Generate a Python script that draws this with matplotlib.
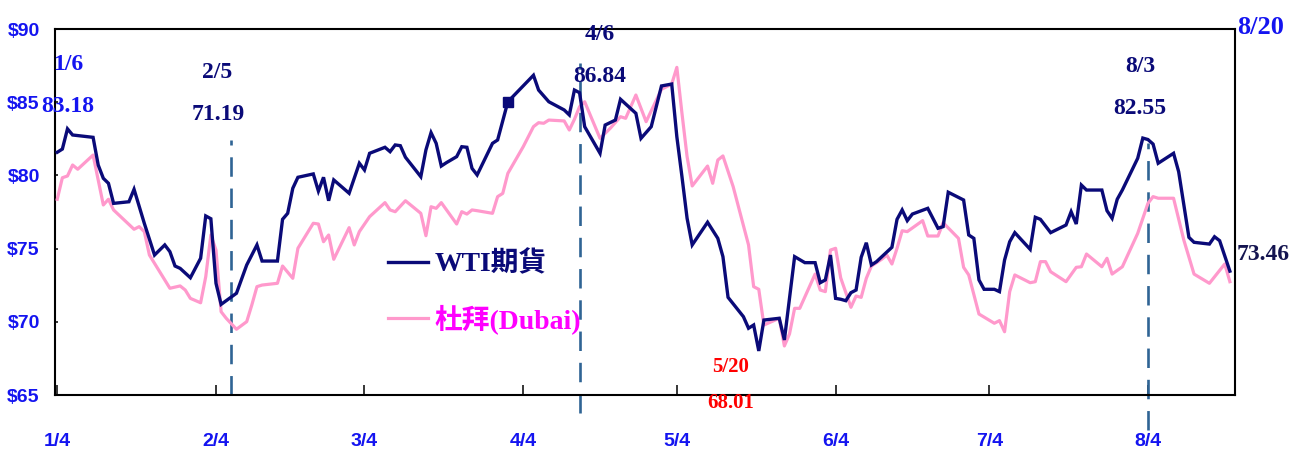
#!/usr/bin/env python3

import matplotlib
matplotlib.use("Agg")
import matplotlib.pyplot as plt
from matplotlib.font_manager import FontProperties
import pandas as pd

# ============================================================
# DATA (2024)
# ============================================================

wti_dates = [
    "1/4", "1/5", "1/6", "1/7", "1/8", "1/11", "1/12", "1/13", "1/14", "1/15",
    "1/18", "1/19", "1/21", "1/23", "1/25", "1/26", "1/27", "1/28", "1/30",
    "2/1", "2/2", "2/3", "2/4", "2/5", "2/8", "2/10", "2/12", "2/13", "2/16",
    "2/17", "2/18", "2/19", "2/20", "2/23", "2/24", "2/25", "2/26", "2/27",
    "3/1", "3/3", "3/4", "3/5", "3/8", "3/9", "3/10", "3/11", "3/12", "3/15",
    "3/16", "3/17", "3/18", "3/19", "3/20", "3/22", "3/23", "3/24", "3/25",
    "3/26", "3/29", "3/30", "4/1", "4/6", "4/7", "4/9", "4/12", "4/13", "4/14",
    "4/15", "4/16", "4/19", "4/20", "4/22", "4/23", "4/26", "4/27", "4/29",
    "5/1", "5/3", "5/4", "5/5", "5/6", "5/7", "5/10", "5/12", "5/13", "5/14",
    "5/17", "5/18", "5/19", "5/20", "5/21", "5/24", "5/25", "5/27", "5/29",
    "5/31", "6/1", "6/2", "6/3", "6/4", "6/5", "6/6", "6/7", "6/8", "6/9",
    "6/10", "6/11", "6/12", "6/15", "6/16", "6/17", "6/18", "6/19", "6/22",
    "6/23", "6/24", "6/25", "6/26", "6/29", "6/30", "7/1", "7/2", "7/3", "7/5",
    "7/6", "7/7", "7/8", "7/9", "7/12", "7/13", "7/14", "7/16", "7/19", "7/20",
    "7/21", "7/22", "7/23", "7/26", "7/27", "7/28", "7/29", "7/30", "8/2",
    "8/3", "8/4", "8/5", "8/6", "8/9", "8/10", "8/12", "8/13", "8/16", "8/17",
    "8/18", "8/20",
]
wti_values = [
    81.58, 81.80, 83.18, 82.76, 82.72, 82.60, 80.71, 79.80, 79.46, 78.09,
    78.20, 79.05, 76.73, 74.56, 75.25, 74.79, 73.81, 73.65, 73.01,
    74.34, 77.23, 77.04, 72.63, 71.19, 71.95, 73.88, 75.25, 74.15, 74.15,
    77.00, 77.41, 79.12, 79.87, 80.10, 78.93, 79.87, 78.27, 79.69,
    78.78, 80.83, 80.37, 81.51, 81.92, 81.62, 82.08, 82.03, 81.24, 79.91,
    81.74, 82.92, 82.19, 80.64, 80.87, 81.28, 81.96, 81.92, 80.48,
    80.03, 82.19, 82.42, 85.03, 86.84, 85.83, 85.03, 84.47, 84.13, 85.83,
    85.65, 83.33, 81.51, 83.44, 83.78, 85.20, 84.24, 82.53, 83.33,
    86.11, 86.24, 82.64, 79.91, 77.07, 75.25, 76.80, 75.70, 74.45, 71.67,
    70.35, 69.56, 69.78, 68.01, 70.12, 70.24, 68.76, 74.45, 74.04,
    74.04, 72.67, 72.86, 74.56, 71.60, 71.54, 71.44, 71.99, 72.17, 74.41,
    75.40, 73.88, 74.11, 75.09, 77.00, 77.64, 76.91, 77.36, 77.75,
    77.07, 76.39, 76.50, 78.85, 78.32, 75.93, 75.70, 72.86, 72.22, 72.22,
    72.06, 74.22, 75.47, 76.09, 74.95, 77.14, 77.00, 76.09, 76.61, 77.52,
    76.68, 79.34, 79.00, 79.00, 77.59, 77.07, 78.37, 79.00, 81.17,
    82.55, 82.45, 82.14, 80.83, 81.51, 80.25, 75.77, 75.43, 75.31, 75.81,
    75.54, 73.46,
]

dubai_dates = [
    "1/4", "1/5", "1/6", "1/7", "1/8", "1/11", "1/12", "1/13", "1/14", "1/15",
    "1/19", "1/20", "1/21", "1/22", "1/26", "1/28", "1/29", "1/30", "2/1",
    "2/2", "2/3", "2/4", "2/5", "2/6", "2/8", "2/10", "2/11", "2/12", "2/13",
    "2/16", "2/17", "2/19", "2/20", "2/23", "2/24", "2/25", "2/26", "2/27",
    "3/1", "3/2", "3/3", "3/5", "3/8", "3/9", "3/10", "3/12", "3/15", "3/16",
    "3/17", "3/18", "3/19", "3/22", "3/23", "3/24", "3/25", "3/26", "3/29",
    "3/30", "3/31", "4/1", "4/4", "4/6", "4/7", "4/8", "4/9", "4/12", "4/13",
    "4/14", "4/15", "4/16", "4/19", "4/21", "4/23", "4/24", "4/26", "4/28",
    "5/1", "5/3", "5/4", "5/5", "5/6", "5/7", "5/10", "5/11", "5/12", "5/13",
    "5/15", "5/18", "5/19", "5/20", "5/21", "5/24", "5/25", "5/26", "5/27",
    "5/28", "5/31", "6/1", "6/2", "6/3", "6/4", "6/5", "6/7", "6/8", "6/9",
    "6/10", "6/11", "6/13", "6/14", "6/15", "6/16", "6/17", "6/18", "6/21",
    "6/22", "6/24", "6/25", "6/28", "6/29", "6/30", "7/2", "7/5", "7/6", "7/7",
    "7/8", "7/9", "7/12", "7/13", "7/14", "7/15", "7/16", "7/19", "7/21",
    "7/22", "7/23", "7/26", "7/27", "7/28", "7/30", "8/2", "8/4", "8/5", "8/6",
    "8/9", "8/11", "8/13", "8/16", "8/19", "8/20",
]
dubai_values = [
    78.37, 79.84, 79.96, 80.71, 80.42, 81.39, 79.69, 77.98, 78.37, 77.64,
    76.32, 76.50, 76.16, 74.56, 72.29, 72.45, 72.17, 71.60, 71.30,
    73.08, 75.93, 74.90, 70.69, 70.24, 69.49, 70.01, 71.15, 72.40, 72.51,
    72.63, 73.81, 72.97, 75.02, 76.73, 76.68, 75.47, 75.93, 74.27,
    76.43, 75.25, 76.16, 77.18, 78.14, 77.64, 77.52, 78.27, 77.41, 75.88,
    77.86, 77.75, 78.14, 76.68, 77.52, 77.36, 77.64, 77.59, 77.41,
    78.55, 78.77, 80.14, 81.96, 83.33, 83.60, 83.56, 83.78, 83.72, 83.10,
    83.83, 84.69, 85.03, 82.53, 83.22, 84.01, 83.90, 85.49, 83.67,
    85.88, 86.24, 87.38, 84.24, 81.28, 79.28, 80.64, 79.46, 81.05, 81.33,
    79.23, 75.25, 72.40, 72.22, 69.78, 70.24, 68.35, 69.17, 70.92,
    70.92, 73.26, 72.17, 72.06, 74.90, 75.02, 73.00, 70.99, 71.76, 71.67,
    72.97, 73.81, 74.27, 74.56, 73.95, 75.02, 76.22, 76.16, 76.91,
    75.86, 75.86, 76.77, 75.70, 73.72, 73.20, 70.53, 69.90, 70.08, 69.32,
    72.06, 73.20, 72.67, 72.74, 74.11, 74.11, 73.42, 72.74, 73.72,
    73.76, 74.63, 73.76, 74.34, 73.26, 73.76, 76.04, 78.09, 78.55, 78.44,
    78.44, 75.59, 73.26, 72.63, 73.95, 72.74,
]

tick_dates = ["1/4", "2/4", "3/4", "4/4", "5/4", "6/4", "7/4", "8/4"]
y_ticks = [65, 70, 75, 80, 85, 90]
y_labels = ["$65", "$70", "$75", "$80", "$85", "$90"]

marker_date = "4/1"          # the single square marker on the WTI line
marker_value = 85.03

# dashed vertical markers: date, bottom, top
mark_dates = ["2/7", "4/15", "8/4"]
mark_bottoms = [65.0, 63.8, 62.6]
mark_tops = [82.4, 87.7, 82.2]


def to_dt(labels):
    return pd.to_datetime(["2024/" + s for s in labels], format="%Y/%m/%d")


# ============================================================
# STYLE
# ============================================================

NAVY = "#0a0a78"
PINK = "#ff99cc"
BLUE = "#1414f0"
DASH = "#2f6494"

sans_narrow = ["Liberation Sans Narrow", "Liberation Sans", "DejaVu Sans"]
serif = ["Liberation Serif", "DejaVu Serif"]
legend_font = ["Liberation Serif", "Noto Sans CJK TC", "DejaVu Sans"]

W, H = 1290, 449
fig = plt.figure(figsize=(W / 100, H / 100), dpi=100)
ax = fig.add_axes([55 / W, 1 - 395 / H, 1180 / W, 366 / H])


def fpos(x, y):
    """reference pixel -> figure fraction"""
    return x / W, 1 - y / H


# ============================================================
# LINES
# ============================================================

wti_line, = ax.plot(to_dt(wti_dates), wti_values, color=NAVY, linewidth=2.4,
                    solid_joinstyle="miter", zorder=4)
dubai_line, = ax.plot(to_dt(dubai_dates), dubai_values, color=PINK,
                      linewidth=2.3, zorder=3)
ax.plot(to_dt([marker_date]), [marker_value], marker="s", markersize=6.5,
        color=NAVY, zorder=5)

plt.rcParams["lines.scale_dashes"] = False
for d, lo, hi in zip(to_dt(mark_dates), mark_bottoms, mark_tops):
    ax.plot([d, d], [lo, hi], color=DASH, linewidth=1.9,
            linestyle=(0, (14, 8.5)), clip_on=False, zorder=2)

# ============================================================
# AXES
# ============================================================

ax.set_xlim(pd.Timestamp("2024-01-03 13:30"), pd.Timestamp("2024-08-21"))
ax.set_ylim(65, 90)

ax.set_xticks(to_dt(tick_dates))
ax.set_xticklabels(tick_dates)
ax.set_yticks(y_ticks)
ax.set_yticklabels(y_labels)

ax.tick_params(axis="x", direction="in", length=7, width=1.1, pad=27,
               colors="black", labelcolor=BLUE)
ax.tick_params(axis="y", direction="in", length=2.5, width=1.1, pad=11,
               colors="black", labelcolor=BLUE)
for lab in ax.get_xticklabels() + ax.get_yticklabels():
    lab.set_fontfamily(sans_narrow)
    lab.set_fontweight("bold")
    lab.set_fontsize(14)

for sp in ax.spines.values():
    sp.set_linewidth(1.5)
    sp.set_color("black")

# ============================================================
# LEGEND
# ============================================================

ax.legend(
    [wti_line, dubai_line],
    ["WTI期貨", "杜拜(Dubai)"],
    loc="upper left",
    bbox_to_anchor=((388 - 55) / 1180, (395 - 251) / 366),
    frameon=False,
    borderpad=0,
    borderaxespad=0,
    handlelength=1.45,
    handletextpad=0.22,
    labelspacing=0.95,
    prop=FontProperties(family=legend_font, weight="bold", size=20),
    labelcolor=[NAVY, "#ff00ff"],
)

# ============================================================
# ANNOTATIONS
# ============================================================

notes = [
    ("1/6", 68, 64, BLUE), ("83.18", 68, 106, BLUE),
    ("2/5", 217, 72, NAVY), ("71.19", 218, 115, NAVY),
    ("4/6", 600, 35, NAVY), ("86.84", 600, 76, NAVY),
    ("5/20", 731, 367, "#ff0000"), ("68.01", 731, 403, "#ff0000"),
    ("8/3", 1140, 66, NAVY), ("82.55", 1140, 109, NAVY),
    ("73.46", 1263, 254, "#141450"),
]
for txt, x, y, c in notes:
    size = 15 if c == "#ff0000" else 17
    fig.text(*fpos(x, y), txt, ha="center", va="center", color=c,
             family=serif, weight="bold", size=size)

fig.text(*fpos(1261, 28), "8/20", ha="center", va="center", color=BLUE,
         family=serif, weight="bold", size=19)

fig.savefig("out.png", dpi=100)
